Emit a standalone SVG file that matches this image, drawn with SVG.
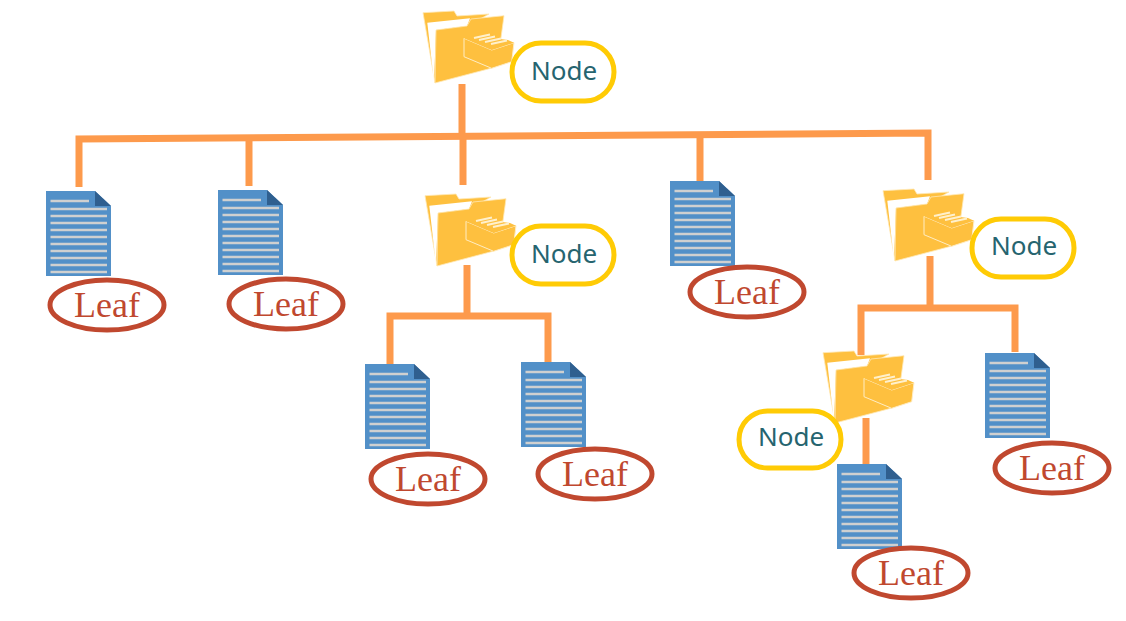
<svg xmlns="http://www.w3.org/2000/svg" width="1126" height="621" viewBox="0 0 1126 621">
<style>
.conn{fill:none;stroke:#fd9a4c;stroke-width:7}
.pill{fill:#fff;stroke:#ffcb05;stroke-width:5}
.ptxt{font-family:"Noto Sans",sans-serif;font-size:26px;fill:#26646f;text-anchor:middle}
.oval{fill:#fff;stroke:#c0482f;stroke-width:5}
.ltxt{font-family:"Liberation Serif",serif;font-size:36px;fill:#c0482f;text-anchor:middle}
.fl{fill:#fec03f;stroke:#ffe9b5;stroke-width:.8;stroke-linejoin:round}
.fe{fill:#fec03f;stroke:#ffedc4;stroke-width:1;stroke-linejoin:round}
.ln{stroke:#cfd0d0;stroke-width:2.500}
</style>
<defs>
<g id="folder">
<path class="fl" d="M0 1.700L31 0L34 5L66 3L50 12L15 40L12 72Z"/>
<path d="M4.300 11.700L47 7.300L44 15L13 19L11 70.700Z" fill="#fff"/>
<path class="fl" d="M13 19L44 15L48 8L81 4.700L77 34L69 57L12 72Z"/>
<path class="fe" d="M41 27.300L68.700 39L91 31.700L88.700 50.700L68.700 57.300L41 45.700Z"/>
<path d="M41 27.300L50 24.500L85 29L91 31.700L68.700 39Z" fill="#fec03f"/>
<path d="M51 27L67 23.500M56 29L72 25.500M62 31L78 27.500M68 33L84 29.500" stroke="#fff0cc" stroke-width="2.200" fill="none"/>
</g>
<g id="doc">
<path d="M0 0H49L65 15V85H0Z" fill="#5290c8"/>
<path d="M49 0L65 15H49Z" fill="#2f5f8f"/>
<path class="ln" d="M4.500 10H43M4.500 18H61M4.500 25H61M4.500 32H61M4.500 39H61M4.500 46H61M4.500 53H61M4.500 60H61M4.500 67H61M4.500 74H61M4.500 81H61"/>
</g>
</defs>
<g id="connectors">
<path class="conn" d="M79 187V139L928 133V180"/>
<path class="conn" d="M462 84V136M463 134V185M249 137V186M700 134V181"/>
<path class="conn" d="M467 265V316M390 364V316H548V362"/>
<path class="conn" d="M930 256V308M861 355V308H1015V352"/>
<path class="conn" d="M866 418V465"/>
</g>
<g id="node-root"><use href="#folder" x="423" y="11"/><rect class="pill" x="512" y="43" width="102" height="58" rx="29"/><text class="ptxt" x="564" y="79.500">Node</text></g>
<g id="node-mid"><use href="#folder" x="425" y="194"/><rect class="pill" x="512" y="226" width="102" height="58" rx="29"/><text class="ptxt" x="564" y="262.500">Node</text></g>
<g id="node-right"><use href="#folder" x="883" y="189"/><rect class="pill" x="972" y="219" width="102" height="58" rx="29"/><text class="ptxt" x="1024" y="255">Node</text></g>
<g id="node-low"><use href="#folder" x="823" y="351"/><rect class="pill" x="739" y="411" width="102" height="57" rx="28.500"/><text class="ptxt" x="791" y="446">Node</text></g>
<g id="leaf-1"><use href="#doc" x="46" y="191"/><ellipse class="oval" cx="107" cy="305" rx="57" ry="25"/><text class="ltxt" x="107" y="317">Leaf</text></g>
<g id="leaf-2"><use href="#doc" x="218" y="190"/><ellipse class="oval" cx="286" cy="304" rx="57" ry="25"/><text class="ltxt" x="286" y="316">Leaf</text></g>
<g id="leaf-3"><use href="#doc" x="670" y="181"/><ellipse class="oval" cx="747" cy="292" rx="57" ry="25"/><text class="ltxt" x="747" y="304">Leaf</text></g>
<g id="leaf-4"><use href="#doc" x="365" y="364"/><ellipse class="oval" cx="428" cy="479" rx="57" ry="25"/><text class="ltxt" x="428" y="491">Leaf</text></g>
<g id="leaf-5"><use href="#doc" x="521" y="362"/><ellipse class="oval" cx="595" cy="474" rx="57" ry="25"/><text class="ltxt" x="595" y="486">Leaf</text></g>
<g id="leaf-6"><use href="#doc" x="985" y="353"/><ellipse class="oval" cx="1052" cy="468" rx="57" ry="25"/><text class="ltxt" x="1052" y="480">Leaf</text></g>
<g id="leaf-7"><use href="#doc" x="837" y="464"/><ellipse class="oval" cx="911" cy="573" rx="57" ry="25"/><text class="ltxt" x="911" y="585">Leaf</text></g>
</svg>
